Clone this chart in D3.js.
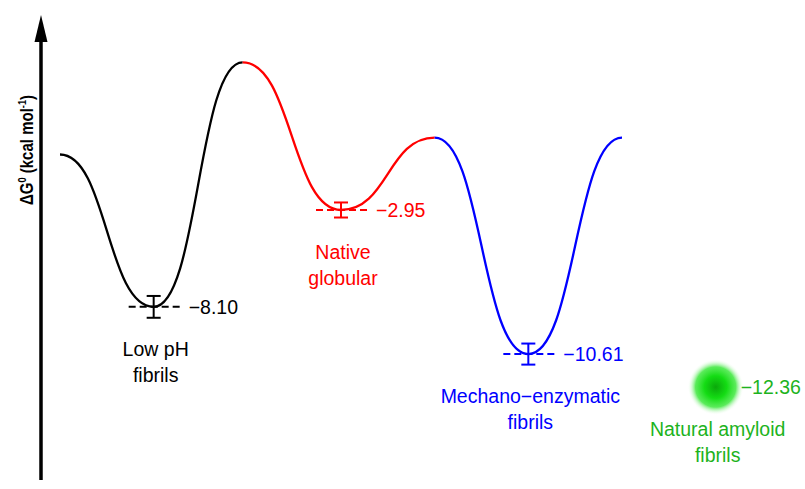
<!DOCTYPE html>
<html>
<head>
<meta charset="utf-8">
<script src="https://cdn.jsdelivr.net/npm/d3@7"></script>
<style>
  body { margin: 0; background: #fff; }
  svg text { font-family: "Liberation Sans", Arial, sans-serif; }
</style>
</head>
<body>
<svg id="chart" width="805" height="489"></svg>
<script>
// energy profile (reaction coordinate, kcal/mol)
const pathX = [0, 1, 1.95, 3, 4, 5, 6];
const pathDG = [0, -8.10, 4.9, -2.95, 0.9, -10.61, 0.9];
// which points belong to each coloured piece of the curve
const segStart = [0, 2, 4];
const segEnd = [2, 4, 6];
const segColors = ["#000000", "#ff0000", "#0000ff"];

// states
const stateX = [1, 3, 5, 7];
const stateDG = [-8.10, -2.95, -10.61, -12.36];
const stateErr = [0.58, 0.40, 0.56, 0];
const valueLabels = ["\u22128.10", "\u22122.95", "\u221210.61", "\u221212.36"];
const stateLabels = [["Low pH", "fibrils"], ["Native", "globular"], ["Mechano\u2212enzymatic", "fibrils"], ["Natural amyloid", "fibrils"]];
const stateColors = ["#000000", "#ff0000", "#0000ff", "#1db31d"];

const svg = d3.select("#chart");

let x = d3.scaleLinear().domain([0, 6]).range([60, 622]);
let y = d3.scaleLinear().domain([0, -12.36]).range([154.5, 387]);

svg.append("defs").html(
  '<radialGradient id="glow">' +
  '<stop offset="0%" stop-color="#0aa80a"/>' +
  '<stop offset="40%" stop-color="#14dc14"/>' +
  '<stop offset="72%" stop-color="#3ee83e" stop-opacity="0.85"/>' +
  '<stop offset="100%" stop-color="#ffffff" stop-opacity="0"/>' +
  '</radialGradient>');

// axis arrow
svg.append("line")
  .attr("x1", 41).attr("x2", 41)
  .attr("y1", 480).attr("y2", 38)
  .attr("stroke", "#000").attr("stroke-width", 3.5);
svg.append("path")
  .attr("d", "M41,15 L47.5,42 L34.5,42 Z")
  .attr("fill", "#000");

svg.append("text")
  .attr("transform", "translate(33,150) rotate(-90)")
  .attr("text-anchor", "middle")
  .attr("font-size", 18)
  .attr("font-weight", "bold")
  .attr("textLength", 110)
  .attr("lengthAdjust", "spacingAndGlyphs")
  .html('\u0394G<tspan font-size="11" dy="-7">0</tspan><tspan dy="7"> (kcal mol</tspan><tspan font-size="11" dy="-7">-1</tspan><tspan dy="7">)</tspan>');

// curve pieces
let line = d3.line()
  .x(d => x(d[0]))
  .y(d => y(d[1]))
  .curve(d3.curveBumpX);

segStart.forEach(function(s, i) {
  let pts = [];
  for (let k = s; k <= segEnd[i]; k++) pts.push([pathX[k], pathDG[k]]);
  svg.append("path")
    .datum(pts)
    .attr("d", line)
    .attr("fill", "none")
    .attr("stroke", segColors[i])
    .attr("stroke-width", 2.3);
});

// states: dashed level, error bar, labels
stateX.forEach(function(sx, i) {
  let cx = x(sx), cy = y(stateDG[i]);
  let col = stateColors[i];
  let g = svg.append("g");

  if (i < 3) {
    g.append("line")
      .attr("x1", cx - 25).attr("x2", cx + 27)
      .attr("y1", cy).attr("y2", cy)
      .attr("stroke", col).attr("stroke-width", 2)
      .attr("stroke-dasharray", "7,4");
    let top = y(stateDG[i] + stateErr[i]), bot = y(stateDG[i] - stateErr[i]);
    g.append("line").attr("x1", cx).attr("x2", cx).attr("y1", top).attr("y2", bot)
      .attr("stroke", col).attr("stroke-width", 2);
    [top, bot].forEach(function(yy) {
      g.append("line").attr("x1", cx - 7).attr("x2", cx + 7).attr("y1", yy).attr("y2", yy)
        .attr("stroke", col).attr("stroke-width", 2);
    });
  } else {
    g.append("circle").attr("cx", cx).attr("cy", cy).attr("r", 28)
      .attr("fill", "url(#glow)");
  }

  g.append("text")
    .attr("x", i < 3 ? cx + 35 : cx + 25)
    .attr("y", cy)
    .attr("dy", "0.35em")
    .attr("font-size", 19.5)
    .attr("fill", col)
    .text(valueLabels[i]);

  stateLabels[i].forEach(function(t, j) {
    g.append("text")
      .attr("x", cx + 2)
      .attr("y", cy + 49 + j * 26)
      .attr("text-anchor", "middle")
      .attr("font-size", 19.5)
      .attr("fill", col)
      .text(t);
  });
});
</script>
</body>
</html>
